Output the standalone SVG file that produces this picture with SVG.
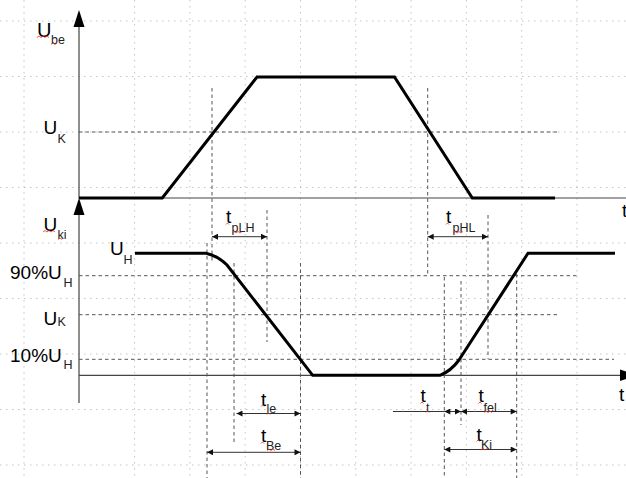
<svg xmlns="http://www.w3.org/2000/svg" width="626" height="478" viewBox="0 0 626 478">
<style>
.grid{stroke:#c4c4c4;stroke-width:1;stroke-dasharray:1.5 4.5;fill:none}
.axis{stroke:#444;stroke-width:1.2;fill:none}
.dash{stroke:#555;stroke-width:1;stroke-dasharray:3.5 3;fill:none}
.sig{stroke:#000;stroke-width:3;fill:none;stroke-linejoin:miter}
.dim{stroke:#333;stroke-width:1;fill:none;marker-start:url(#ah);marker-end:url(#ah)}
.plain{stroke:#333;stroke-width:1;fill:none}
.lbl{font-family:"Liberation Sans",Arial,sans-serif;font-size:19px;fill:#000}
.sub{font-family:"Liberation Sans",Arial,sans-serif;font-size:12.5px;fill:#222}
.sq{stroke:#e03030;stroke-width:0.8;fill:none}
</style>
<defs>
<marker id="ah" viewBox="0 0 10 10" refX="10" refY="5" markerWidth="8" markerHeight="6" markerUnits="userSpaceOnUse" orient="auto-start-reverse">
<path d="M0,0 L10,5 L0,10 Z" fill="#111"/>
</marker>
</defs>
<rect width="626" height="478" fill="#fff"/>
<g id="grid">
<path class="grid" d="M24,0V478M134.6,0V478M189.9,0V478M245.2,0V478M300.5,0V478M355.8,0V478M411.1,0V478M466.4,0V478M521.7,0V478M577,0V478"/>
<path class="grid" d="M0,21H626M0,76.5H626M0,132H626M0,187.5H626M0,243H626M0,298.5H626M0,354H626M0,409.5H626M0,465H626"/>
</g>
<g id="axes">
<path class="axis" d="M79,24V198H626"/>
<path d="M73.5,27L79,10L84.5,27Z" fill="#000"/>
<path class="axis" d="M79,212V403M79,375.3H622"/>
<path d="M73.5,215L79,198L84.5,215Z" fill="#000"/>
<path d="M620,369.5L637,375.3L620,381Z" fill="#000"/>
</g>
<g id="guides">
<path class="dash" d="M79,132H559"/>
<path class="dash" d="M79,275.7H577M79,314.7H558M79,359.3H614"/>
<path class="dash" d="M212,88V263M267,210V342M427.7,88V275M488,215V359"/>
<path class="dash" d="M207,243V478M234,263V442M300.5,263V478M444.3,277V478M461,281V425M516.7,274V478"/>
</g>
<g id="signal-upper">
<path class="sig" d="M79,198H162.3L257,77H394.5L472.3,198H555"/>
</g>
<g id="signal-lower">
<path class="sig" d="M135,253.3H206Q218,256 227,265L312.7,375.3H440Q451,371 459,360L528,253.3H615"/>
</g>
<g id="connectors">
<path class="dim" d="M212,236.7H267"/>
<path class="dim" d="M427.7,236.7H488"/>
<path class="dim" d="M236.5,413.5H300.5"/>
<path class="dim" d="M207,452.3H300.5"/>
<path class="plain" d="M393,411.5H444.3"/>
<path class="dim" d="M444.3,411.5H461"/>
<path class="dim" d="M461,411.5H516.7"/>
<path class="dim" d="M444.3,449.5H516.7"/>
</g>
<g id="labels">
<text class="lbl" x="37" y="36.5" style="font-size:20px">U</text><text class="sub" x="51" y="44">be</text>
<text class="lbl" x="43.5" y="134">U</text><text class="sub" x="57.5" y="143">K</text>
<text class="lbl" x="43.5" y="230.5">U</text><text class="sub" x="57.5" y="239">ki</text>
<text class="lbl" x="110" y="254.5">U</text><text class="sub" x="123.5" y="264">H</text>
<text class="lbl" x="10" y="278.5">90%U</text><text class="sub" x="63.5" y="287">H</text>
<text class="lbl" x="43.5" y="324.5">U</text><text class="sub" x="57.5" y="325.5">K</text>
<text class="lbl" x="10" y="362">10%U</text><text class="sub" x="63.5" y="368.5">H</text>
<text class="lbl" x="622" y="217">t</text>
<text class="lbl" x="619" y="400.5">t</text>
<text class="lbl" x="226" y="223">t</text><text class="sub" x="231.5" y="232">pLH</text>
<text class="lbl" x="446" y="223">t</text><text class="sub" x="452.5" y="232">pHL</text>
<text class="lbl" x="261" y="405.5">t</text><text class="sub" x="266.5" y="413">le</text>
<text class="lbl" x="261" y="442">t</text><text class="sub" x="266" y="449.5">Be</text>
<text class="lbl" x="420.5" y="402">t</text><text class="sub" x="426" y="411.5">t</text>
<text class="lbl" x="478.5" y="402">t</text><text class="sub" x="483.5" y="411.5">fel</text>
<text class="lbl" x="476.5" y="440.5">t</text><text class="sub" x="481" y="448.5">Ki</text>
</g>
<g id="spellmarks">
<path class="sq" d="M37,37.5l2,-1.5l2,1.5l2,-1.5l2,1.5l2,-1.5l2,1.5M51,44.5l2,-1.5l2,1.5l2,-1.5"/>
<path class="sq" d="M43,232l2,-1.5l2,1.5l2,-1.5l2,1.5l2,-1.5l2,1.5M58,239.5l2,-1.5l2,1.5"/>
<path class="sq" d="M226,224.5l1.5,-1.5l1.5,1.5M232,233l2,-1.5l2,1.5l2,-1.5l2,1.5l2,-1.5"/>
<path class="sq" d="M446,224.5l1.5,-1.5l1.5,1.5M453,233l2,-1.5l2,1.5l2,-1.5l2,1.5l2,-1.5"/>
<path class="sq" d="M261,406.5l1.5,-1.5l1.5,1.5M267,414.5l1.5,-1.5l1.5,1.5"/>
<path class="sq" d="M261,443.5l1.5,-1.5l1.5,1.5M267,450.5l2,-1.5l2,1.5l2,-1.5l2,1.5"/>
<path class="sq" d="M420.5,403.5l1.5,-1.5l1.5,1.5M426,412.5l1.5,-1.5l1.5,1.5"/>
<path class="sq" d="M478.5,403.5l1.5,-1.5l1.5,1.5M484,412.5l2,-1.5l2,1.5l2,-1.5l2,1.5"/>
<path class="sq" d="M476.5,441.5l1.5,-1.5l1.5,1.5M481,450l2,-1.5l2,1.5l2,-1.5"/>
</g>
</svg>
